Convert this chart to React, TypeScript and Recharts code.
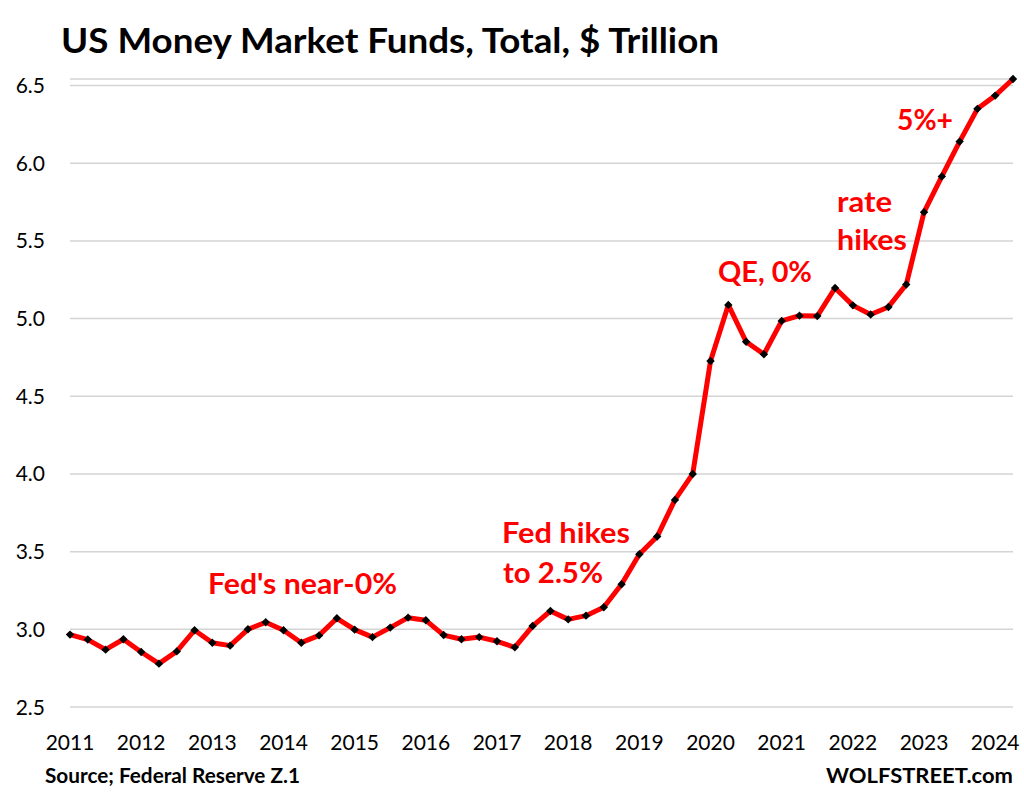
import React from "react";
import { LineChart, Line, XAxis, YAxis, CartesianGrid } from "recharts";

const years = ["2011","2012","2013","2014","2015","2016","2017","2018","2019","2020","2021","2022","2023","2024"];
const quarterNames = ["Q1","Q2","Q3","Q4"];
const values = [
  2.966, 2.934, 2.869, 2.936,
  2.854, 2.779, 2.858, 2.994,
  2.914, 2.895, 3.000, 3.045,
  2.994, 2.914, 2.961, 3.071,
  2.998, 2.950, 3.011, 3.075,
  3.058, 2.963, 2.936, 2.950,
  2.923, 2.884, 3.021, 3.118,
  3.064, 3.088, 3.142, 3.290,
  3.483, 3.597, 3.833, 4.000,
  4.727, 5.088, 4.851, 4.770,
  4.985, 5.019, 5.016, 5.197,
  5.085, 5.026, 5.075, 5.219,
  5.685, 5.915, 6.139, 6.350,
  6.435, 6.542,
];
const yTicks = [2.5, 3.0, 3.5, 4.0, 4.5, 5.0, 5.5, 6.0, 6.5];

const quarters: string[] = [];
years.forEach((y) => quarterNames.forEach((q) => quarters.push(`${y}${q}`)));
const data = values.map((v, i) => ({ q: quarters[i], v }));
const xTicks = years.map((y) => `${y}Q1`);

const FONT = "Lato, 'Noto Sans', sans-serif";
const RED = "#ff0000";

const renderDot = (p: any) => {
  const { cx, cy, index } = p;
  if (cx == null || cy == null) return <g key={index} />;
  const r = 4.2;
  return (
    <path
      key={index}
      d={`M${cx},${cy - r}L${cx + r},${cy}L${cx},${cy + r}L${cx - r},${cy}Z`}
      fill="#000"
    />
  );
};

const XTick = (p: any) => {
  const { x, y, payload } = p;
  return (
    <text x={x} y={y + 43} textAnchor="middle" fontFamily={FONT} fontSize={21} fill="#000">
      {String(payload.value).slice(0, 4)}
    </text>
  );
};

const YTick = (p: any) => {
  const { x, y, payload } = p;
  return (
    <text x={x - 25} y={y + 7.5} textAnchor="end" fontFamily={FONT} fontSize={21} fill="#000">
      {Number(payload.value).toFixed(1)}
    </text>
  );
};

export default function App() {
  return (
    <div style={{ position: "absolute", left: 0, top: 0, width: 1024, height: 797, background: "#fff" }}>
      <LineChart
        width={1024}
        height={797}
        data={data}
        margin={{ top: 79, right: 11, bottom: 60, left: 10 }}
      >
        <CartesianGrid vertical={false} stroke="#d4d4d4" strokeWidth={1.5} />
        <XAxis
          dataKey="q"
          scale="point"
          padding={{ left: 0, right: 0 }}
          ticks={xTicks}
          interval={0}
          axisLine={false}
          tickLine={false}
          tickSize={0}
          tickMargin={0}
          height={30}
          tick={<XTick />}
        />
        <YAxis
          domain={[2.5, 6.5]}
          ticks={yTicks}
          axisLine={false}
          tickLine={false}
          tickSize={0}
          tickMargin={0}
          width={60}
          tick={<YTick />}
        />
        <Line
          type="linear"
          dataKey="v"
          stroke={RED}
          strokeWidth={5}
          strokeLinejoin="round"
          dot={renderDot}
          activeDot={false}
          isAnimationActive={false}
        />
      </LineChart>
      <svg
        width={1024}
        height={797}
        style={{ position: "absolute", left: 0, top: 0, pointerEvents: "none" }}
      >
        <text x={61} y={53} fontFamily={FONT} fontWeight={700} fontSize={35} fill="#000" textLength={658} lengthAdjust="spacingAndGlyphs">
          US Money Market Funds, Total, $ Trillion
        </text>
        <g fontFamily={FONT} fontWeight={700} fontSize={29} fill={RED}>
          <text x={208} y={594} textLength={189} lengthAdjust="spacingAndGlyphs">Fed's near-0%</text>
          <text x={502} y={543} textLength={128} lengthAdjust="spacingAndGlyphs">Fed hikes</text>
          <text x={503} y={583} textLength={100} lengthAdjust="spacingAndGlyphs">to 2.5%</text>
          <text x={718} y={282} textLength={94} lengthAdjust="spacingAndGlyphs">QE, 0%</text>
          <text x={837} y={212} textLength={55} lengthAdjust="spacingAndGlyphs">rate</text>
          <text x={837} y={250} textLength={70} lengthAdjust="spacingAndGlyphs">hikes</text>
          <text x={897} y={130} textLength={56} lengthAdjust="spacingAndGlyphs">5%+</text>
        </g>
        <g fontFamily={FONT} fontWeight={700} fontSize={20} fill="#000">
          <text x={45} y={783} textLength={255} lengthAdjust="spacingAndGlyphs">Source; Federal Reserve Z.1</text>
          <text x={1013} y={783} textAnchor="end" textLength={187} lengthAdjust="spacingAndGlyphs">WOLFSTREET.com</text>
        </g>
      </svg>
    </div>
  );
}
